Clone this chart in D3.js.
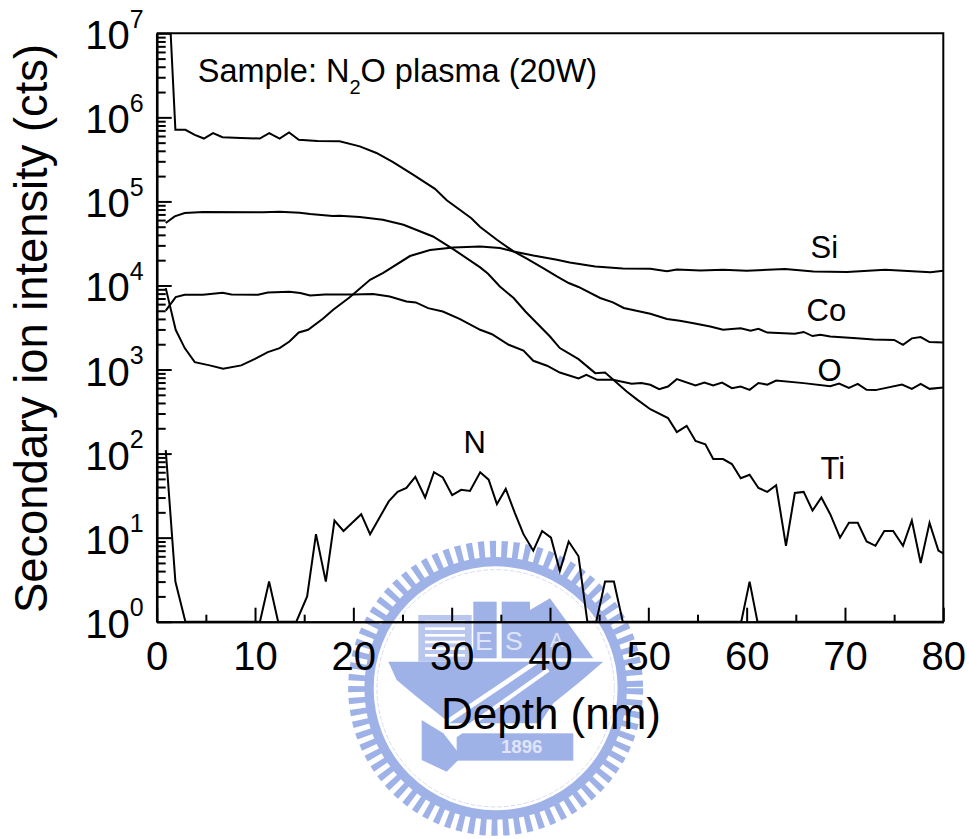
<!DOCTYPE html>
<html>
<head>
  <title>Secondary ion intensity vs depth</title>
  <script src="https://d3js.org/d3.v7.min.js"></script>
  <style>
    html, body { margin: 0; padding: 0; background: #fff; }
    svg { display: block; }
    text { font-family: "Liberation Sans", Arial, sans-serif; fill: #000; }
    .curve { fill: none; stroke: #000; stroke-width: 2px; stroke-linejoin: miter; }
    .axis path, .axis line { stroke: #000; stroke-width: 2px; fill: none; }
    .y-axis path { stroke-width: 2.5px; }
  </style>
</head>
<body>
  <svg id="chart"></svg>

  <script>
    var coDepth = [1.42,1.9,2.92,3.87,4.8,5.73,6.69,8.55,10.48,11.44,12.5,13.46,14.45,16.35,18.6,20.65,22.35,24.04,26.07,28.3,29.5,32,32.9,34.6,36.3,37.6,39.3,40.7,41.9,42.9,45.1,46.4,47.5,50.2,51.9,53.2,54.6,56.3,57.6,59.4,60.4,61.2,62.1,64.9,65.8,66.7,67.5,68.5,71.2,72.9,75,75.9,76.8,77.7,78.6,80];
    var coCounts = [1e7,7.1e5,7.1e5,6.2e5,5.6e5,6.5e5,5.8e5,5.7e5,5.6e5,6.5e5,5.6e5,6.6e5,5.4e5,5.25e5,5.18e5,4.52e5,3.77e5,2.94e5,2.08e5,1.41e5,1.03e5,6.3e4,4.96e4,3.5e4,2.54e4,2.1e4,1.61e4,1.28e4,1.07e4,9600,7100,6300,5400,4600,4000,3800,3560,3250,2970,3100,2900,3050,2750,2660,2800,2500,2600,2470,2350,2280,2250,1970,2350,2430,2120,2100];

    var siDepth = [0.92,1.93,2.85,3.87,5.39,6.75,8.6,10,11.3,12.5,13.5,14.45,15.4,16.9,17.95,19.6,21.7,23.04,25.76,27.8,30.15,32.9,34.9,36.3,38.3,40.7,42,44.6,47.4,50.2,51.9,52.9,55.3,57.6,60,63.9,66.8,70.2,74.1,78.7,80];
    var siCounts = [9300,2970,1800,1225,1120,1020,1120,1340,1610,1800,2150,2760,2970,4020,5140,7200,11700,14100,22400,26400,28300,29100,27900,25400,22700,20200,18800,16800,15900,15800,14800,15500,15100,15400,15000,15700,14700,14500,15400,14400,15000];

    var tiDepth = [0.92,1.83,2.85,4.7,10.8,12.5,14.55,15.6,17.9,18.6,20.65,23,25.1,28.1,30.15,32.9,33.7,34.9,36.3,37.5,40,41,42.9,44.6,45.6,47.8,48.9,50.2,52,52.9,53.9,54.8,55.8,56.6,57.6,58.5,59.4,60.3,61.2,62.1,63,64,64.9,65.8,66.7,67.6,68.5,69.5,70.4,71.3,72.2,73.1,74,74.9,75.9,76.8,77.7,78.6,79.5,80];
    var tiCounts = [55300,66300,72800,74800,74100,75400,73500,70800,67000,67600,65200,60500,52800,38300,27100,16400,13800,9730,7080,4900,2470,1800,1330,906,921,547,435,337,265,180,214,141,129,86,86,75,51,56,39,35,42,8,34,35,21,30,19,10,15,15,9,8,12,12,8,16,5,15,7,6.5];

    var oDepth = [0.92,1.93,2.85,4.7,6.7,7.6,10.3,11.3,13.5,14.6,15.6,17.1,20,22,23.7,25.4,26.35,27.6,29.1,30.8,32.9,34.1,35.8,37.3,38.3,39.7,41,42.9,43.7,44.8,46.4,48.3,49.3,50.2,51.1,52,52.9,54.8,55.7,56.6,57.5,58.5,59.4,60.3,61.2,62.1,63,65.8,68.5,69.4,70.4,71.3,72.2,73.1,75.8,76.8,77.7,78.6,80];
    var oCounts = [5030,7280,7760,7760,8190,7810,7760,8260,8410,8130,7590,7810,7810,7900,7400,6450,6280,5380,4900,4010,2970,2630,1970,1680,1270,1110,920,782,865,754,754,676,692,658,585,628,769,645,700,645,700,601,628,573,692,661,741,689,634,681,606,676,573,569,661,589,676,589,611];

    var nDepth = [0.92,1.9,2.92,10.5,11.43,12.35,14.2,15.3,16.2,17.2,18.08,19,20.8,21.7,23.6,24.5,25.4,26.3,27.3,28.2,29.1,30.05,30.97,31.86,32.9,33.76,34.6,35.5,36.4,37.3,38.3,39.2,40.1,41,41.9,42.9,43.8,44.7,45.6,46.5,47.4,59.45,60.3,61.1,80];
    var nCounts = [110,3,1,1,3,1,1,2,11,3,16,12,19,11,27,35,39,53,30,60,52,32,37,36,60,49,25,38,20,11,7,12,10,4,9,6,1,1,3,3,1,1,3,1,1];

    var xMajor = [0,10,20,30,40,50,60,70,80];
    var xMinor = [5,15,25,35,45,55,65,75];
    var yExponents = [0,1,2,3,4,5,6,7];

    var seriesLabels = [
      { text: "Si", x: 66.5, y: 21500 },
      { text: "Co", x: 66.1, y: 3800 },
      { text: "O", x: 67.2, y: 734 },
      { text: "Ti", x: 67.5, y: 50 },
      { text: "N", x: 31.2, y: 101 }
    ];

    var chartWidth = 969;
    var chartHeight = 839;
    var margin = { top: 33.3, right: 25.7, bottom: 217.3, left: 156.7 };
    var innerWidth = chartWidth - margin.left - margin.right;
    var innerHeight = chartHeight - margin.top - margin.bottom;

    var svg = d3.select("#chart")
      .attr("width", chartWidth)
      .attr("height", chartHeight);

    drawWatermark();

    var chart = svg.append("g")
      .attr("transform", "translate(" + margin.left + "," + margin.top + ")");

    var xScale = d3.scaleLinear().domain([0, 80]).range([0, innerWidth]);
    var yScale = d3.scaleLog().domain([1, 1e7]).range([innerHeight, 0]);

    var yMajor = yExponents.map(d => Math.pow(10, d));
    var yMinor = [];
    yMajor.slice(0, -1).forEach(function(d) {
      d3.range(2, 10).forEach(k => yMinor.push(d * k));
    });

    // minor ticks first, they carry no labels
    chart.append("g")
      .attr("class", "axis")
      .attr("transform", "translate(0," + innerHeight + ")")
      .call(d3.axisBottom(xScale).tickValues(xMinor).tickSizeInner(-7).tickSizeOuter(0))
      .selectAll("text").remove();

    chart.append("g")
      .attr("class", "axis")
      .call(d3.axisRight(yScale).tickValues(yMinor).tickSizeInner(9).tickSizeOuter(0))
      .selectAll("text").remove();

    chart.append("g")
      .attr("class", "axis x-axis")
      .attr("transform", "translate(0," + innerHeight + ")")
      .call(d3.axisBottom(xScale).tickValues(xMajor).tickSizeInner(-14).tickSizeOuter(0).tickFormat(d3.format("d")))
      .selectAll("text")
      .attr("y", 20)
      .style("font-size", "40px");

    chart.append("g")
      .attr("class", "axis y-axis")
      .call(d3.axisRight(yScale).tickValues(yMajor).tickSizeInner(15).tickSizeOuter(0))
      .selectAll("text").remove();

    // log tick labels, 10 with a raised exponent
    var yLabels = chart.append("g");
    yExponents.forEach(function(e) {
      yLabels.append("text")
        .attr("x", -27)
        .attr("y", yScale(Math.pow(10, e)) + 16)
        .attr("text-anchor", "end")
        .style("font-size", "40px")
        .text("10");
      yLabels.append("text")
        .attr("x", -27)
        .attr("y", yScale(Math.pow(10, e)) - 5.5)
        .style("font-size", "25px")
        .text(e);
    });

    // frame
    chart.append("path")
      .attr("d", "M0,0H" + innerWidth + "V" + innerHeight)
      .attr("fill", "none")
      .attr("stroke", "#000")
      .attr("stroke-width", 2);

    var line = d3.line()
      .x(d => xScale(d[0]))
      .y(d => yScale(d[1]));

    [[coDepth, coCounts], [siDepth, siCounts], [tiDepth, tiCounts], [oDepth, oCounts], [nDepth, nCounts]].forEach(function(s) {
      chart.append("path")
        .attr("class", "curve")
        .attr("d", line(d3.zip(s[0], s[1])));
    });

    chart.selectAll(".series-label")
      .data(seriesLabels)
      .enter()
      .append("text")
      .attr("class", "series-label")
      .attr("x", d => xScale(d.x))
      .attr("y", d => yScale(d.y))
      .style("font-size", "31px")
      .text(d => d.text);

    // sample note
    var note = chart.append("text")
      .attr("x", 41)
      .attr("y", 48.4)
      .style("font-size", "32.5px");
    note.append("tspan").text("Sample: N");
    note.append("tspan").attr("dy", 12).style("font-size", "20px").text("2");
    note.append("tspan").attr("dy", -12).text("O plasma (20W)");

    chart.append("text")
      .attr("class", "x-axis-title")
      .attr("x", innerWidth / 2 + 1)
      .attr("y", innerHeight + 107)
      .attr("text-anchor", "middle")
      .style("font-size", "44px")
      .text("Depth (nm)");

    chart.append("text")
      .attr("class", "y-axis-title")
      .attr("transform", "rotate(-90)")
      .attr("x", -(328.5 - margin.top))
      .attr("y", -110)
      .attr("text-anchor", "middle")
      .style("font-size", "45.3px")
      .text("Secondary ion intensity (cts)");

    // school seal behind the plot, pale blue
    function drawWatermark() {
      var blue = "#9fb2e8";
      var g = svg.append("g").attr("transform", "translate(340,530) scale(0.3333)");
      var cx = 467, cy = 475;

      g.append("circle").attr("cx", cx).attr("cy", cy).attr("r", 415)
        .attr("fill", "none").attr("stroke", blue).attr("stroke-width", 55).attr("stroke-dasharray", "18 16");
      g.append("circle").attr("cx", cx).attr("cy", cy).attr("r", 380)
        .attr("fill", "none").attr("stroke", blue).attr("stroke-width", 28);
      g.append("circle").attr("cx", cx).attr("cy", cy).attr("r", 356)
        .attr("fill", "none").attr("stroke", "#d5dcf3").attr("stroke-width", 3).attr("stroke-dasharray", "14 6");

      g.append("rect").attr("x", 235).attr("y", 255).attr("width", 160).attr("height", 140).attr("fill", "#b9c7ee");
      d3.range(272, 380, 20).forEach(function(y) {
        g.append("rect").attr("x", 255).attr("y", y).attr("width", 120).attr("height", 8).attr("fill", "#fff");
      });
      g.append("rect").attr("x", 400).attr("y", 215).attr("width", 70).attr("height", 170).attr("fill", blue);
      g.append("rect").attr("x", 485).attr("y", 215).attr("width", 85).attr("height", 170).attr("fill", blue);
      g.append("path").attr("d", "M570,240L630,205L760,385H570Z").attr("fill", blue);
      g.append("path").attr("d", "M145,395H790L720,455L640,520L600,580H330L230,500L170,450Z").attr("fill", blue);
      g.append("path").attr("d", "M245,570L310,610L365,680L320,725L245,690Z").attr("fill", blue);
      g.append("rect").attr("x", 350).attr("y", 610).attr("width", 350).attr("height", 82).attr("fill", blue);

      g.append("path").attr("d", "M300,590L590,395").attr("stroke", "#fff").attr("stroke-width", 14);
      g.append("path").attr("d", "M335,625L625,420").attr("stroke", "#fff").attr("stroke-width", 12);

      [["E", 432, 360, 80], ["S", 522, 360, 80], ["A", 650, 350, 60]].forEach(function(d) {
        g.append("text").attr("x", d[1]).attr("y", d[2]).attr("text-anchor", "middle")
          .style("font-size", d[3] + "px").style("fill", "#dfe5f7").text(d[0]);
      });
      g.append("text").attr("x", 545).attr("y", 670).attr("text-anchor", "middle")
        .style("font-size", "56px").style("font-weight", "bold").style("fill", "#dfe5f7").text("1896");
    }
  </script>
</body>
</html>
